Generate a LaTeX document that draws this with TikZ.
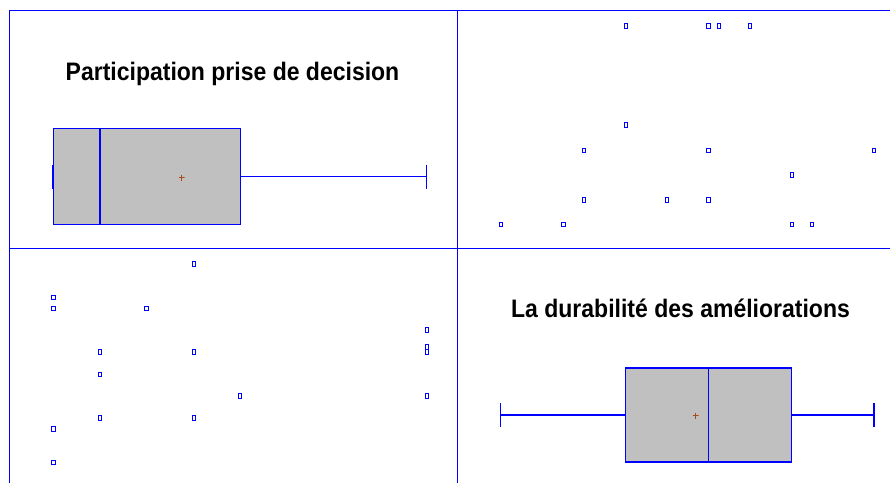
\documentclass[tikz,border=0pt]{standalone}
\usepackage{graphicx}
\usepackage{fontspec}
\setmainfont{Liberation Sans}
\definecolor{boxgray}{RGB}{192,192,192}
\definecolor{meanbrown}{RGB}{170,75,20}

\begin{document}
\begin{tikzpicture}[x = 1pt, y = -1pt,
	frame/.style = {draw = blue, line width = 0.9pt},
	qbox/.style = {draw = blue, fill = boxgray, line width = 1.2pt, inner sep = 0pt},
	whisk/.style = {draw = blue, line width = 1.4pt},
	sq/.style = {draw = blue, line width = 0.9pt, inner sep = 0pt, minimum width = 3.5pt, minimum height = 4.5pt},
	meanpt/.style = {inner sep = 0pt, minimum size = 6pt, path picture = {\draw[meanbrown, line width = 0.9pt] (path picture bounding box.north) -- (path picture bounding box.south) (path picture bounding box.west) -- (path picture bounding box.east);}},
	title/.style = {anchor = base, font = \fontsize{23}{27}\selectfont\bfseries}]
	\useasboundingbox (0,0) rectangle (890,483);
	% panel frame
	\draw[frame] (9,10.5) -- (890,10.5);
	\draw[frame] (9,248) -- (890,248);
	\draw[frame] (9,10.5) -- (9,483);
	\draw[frame] (457,10.5) -- (457,483);
	% top left box plot
	\node[title] (title1) at (232.5,80) {\scalebox{1}[1.1]{Participation prise de decision}};
	\node[qbox, minimum width = 187pt, minimum height = 96pt] (box1) at (147,176.5) {};
	\draw[whisk] (100,128.5) -- (100,224.5);
	\coordinate (cap1) at (426.7,176.5);
	\draw[whisk] (box1.east) -- (cap1);
	\draw[whisk] ([yshift = 12pt] cap1) -- ([yshift = -12pt] cap1);
	\draw[whisk] ([yshift = 12pt] box1.west) -- ([yshift = -12pt] box1.west);
	\node[meanpt] (mean1) at (181.7,177.7) {};
	% top right points
	\foreach \px/\py [count = \i] in {625.7/26, 708.3/26, 719/26, 750/26, 625.7/125, 584/150.3, 708.3/150.3, 874/150.3, 791.7/175, 584/200, 667/200, 708.3/200, 500.7/224.3, 563.3/224.3, 791.7/224.3, 812/224.3}
		\node[sq] (a\i) at (\px,\py) {};
	% bottom left points
	\foreach \px/\py [count = \i] in {193.7/264, 53.3/297.3, 53.3/308.3, 146.3/308.3, 426.7/330, 100/351.7, 193.7/351.7, 426.7/346.7, 426.7/351.7, 100/374.3, 240/396, 426.7/396, 100/417.7, 193.7/417.7, 53.3/428.7, 53.3/462.3}
		\node[sq] (b\i) at (\px,\py) {};
	% bottom right box plot
	\node[title] (title2) at (680.5,317.5) {\scalebox{1}[1.1]{La durabilité des améliorations}};
	\node[qbox, minimum width = 166pt, minimum height = 94pt] (box2) at (708.5,415) {};
	\draw[whisk] (box2.north) -- (box2.south);
	\coordinate (lcap2) at (500.7,415);
	\coordinate (rcap2) at (874,415);
	\draw[whisk] (box2.west) -- (lcap2);
	\draw[whisk] (box2.east) -- (rcap2);
	\draw[whisk] ([yshift = 12pt] lcap2) -- ([yshift = -12pt] lcap2);
	\draw[whisk] ([yshift = 12pt] rcap2) -- ([yshift = -12pt] rcap2);
	\node[meanpt] (mean2) at (695.7,415.7) {};
\end{tikzpicture}
\end{document}
